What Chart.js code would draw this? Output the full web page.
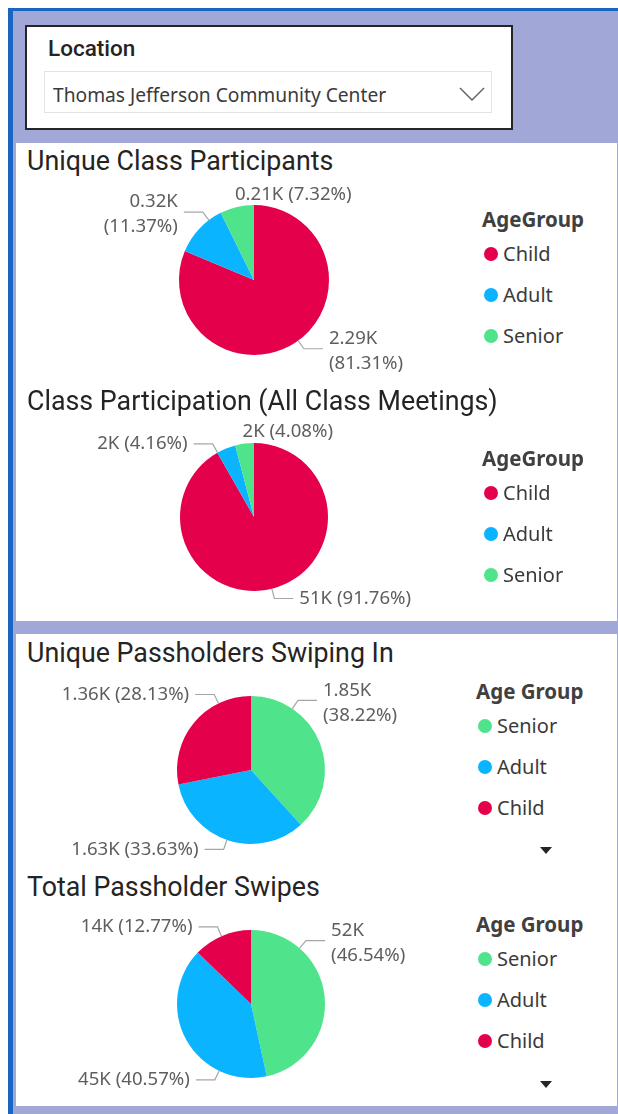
<!DOCTYPE html>
<html>
<head>
<meta charset="utf-8">
<script src="https://cdn.jsdelivr.net/npm/chart.js@4.4.0/dist/chart.umd.min.js"></script>
<style>
  html, body { margin: 0; padding: 0; background: #fff; }
  #page { position: relative; width: 618px; height: 1114px; overflow: hidden; background: #fff; }
  .abs { position: absolute; }
  #frame { left: 8px; top: 8px; right: 0; bottom: 0; background: #1766c2; }
  #backdrop { left: 13px; top: 11px; right: 0; bottom: 0; background: #a1a7d7; }
  .panel { left: 16px; right: 1px; background: #fff; }
  #slicer { left: 25px; top: 25px; width: 484px; height: 101px; background: #fff; border: 2px solid #252525; }
  #slicerTitle { left: 21px; top: 6px; font: 500 22.5px Roboto, sans-serif; color: #252423; line-height: 30px; }
  #dropdown { left: 17px; top: 44px; width: 448px; height: 42px; border: 1px solid #e4e4e4; box-sizing: border-box; }
  #dropText { left: 8px; top: 10px; font: 19.2px "Noto Sans", sans-serif; color: #3b3a39; line-height: 26px; white-space: nowrap; }
  #chev { left: 414px; top: 14px; }
  .title { left: 27px; font: 26.8px Roboto, sans-serif; color: #252423; line-height: 32px; white-space: nowrap; }
  canvas.pie { position: absolute; left: 16px; }
  .legend { position: absolute; font-family: "Noto Sans", sans-serif; color: #3b3a39; }
  .legend .lt { font-weight: 700; font-size: 20.5px; line-height: 28px; color: #404040; white-space: nowrap; }
  .legend .li { display: flex; align-items: center; height: 41px; font-size: 20px; white-space: nowrap; }
  .legend .dot { width: 14px; height: 14px; border-radius: 50%; margin: 0 5px 0 2px; }
  .arrow { position: absolute; width: 0; height: 0; border-left: 6px solid transparent; border-right: 6px solid transparent; border-top: 7px solid #252525; }
</style>
</head>
<body>
<div id="page">
  <div id="frame" class="abs"></div>
  <div id="backdrop" class="abs"></div>
  <div class="abs panel" style="top:143px;height:478px"></div>
  <div class="abs panel" style="top:634px;height:472px"></div>

  <div id="slicer" class="abs">
    <div id="slicerTitle" class="abs">Location</div>
    <div id="dropdown" class="abs">
      <div id="dropText" class="abs">Thomas Jefferson Community Center</div>
      <svg id="chev" class="abs" width="26" height="16"><polyline points="1,2 13,14 25,2" fill="none" stroke="#605e5c" stroke-width="1.4"/></svg>
    </div>
  </div>

  <div class="abs title" style="top:145px">Unique Class Participants</div>
  <canvas id="c1" class="pie" width="440" height="215" style="top:180px"></canvas>
  <div id="lg1" class="legend" style="left:482px;top:205px"></div>

  <div class="abs title" style="top:385px">Class Participation (All Class Meetings)</div>
  <canvas id="c2" class="pie" width="440" height="200" style="top:415px"></canvas>
  <div id="lg2" class="legend" style="left:482px;top:444px"></div>

  <div class="abs title" style="top:637px">Unique Passholders Swiping In</div>
  <canvas id="c3" class="pie" width="440" height="190" style="top:675px"></canvas>
  <div id="lg3" class="legend" style="left:476px;top:677px"></div>
  <div class="arrow" style="left:540px;top:847px"></div>

  <div class="abs title" style="top:871px">Total Passholder Swipes</div>
  <canvas id="c4" class="pie" width="440" height="195" style="top:905px"></canvas>
  <div id="lg4" class="legend" style="left:476px;top:910px"></div>
  <div class="arrow" style="left:540px;top:1081px"></div>
</div>

<script>
// ---- data ----
const groupColors = { Child: '#e5004b', Adult: '#0ab4ff', Senior: '#4fe48b' };

const classGroups = ['Child', 'Adult', 'Senior'];
const uniqueClassK = [2.29, 0.32, 0.21];
const uniqueClassPct = [81.31, 11.37, 7.32];

const participationK = [51, 2, 2];
const participationPct = [91.76, 4.16, 4.08];

const passGroups = ['Senior', 'Adult', 'Child'];
const uniquePassK = [1.85, 1.63, 1.36];
const uniquePassPct = [38.22, 33.63, 28.13];

const swipesK = [52, 45, 14];
const swipesPct = [46.54, 40.57, 12.77];

// ---- label plugin: outside labels with leader lines, like Power BI ----
const pieLabels = {
  id: 'pieLabels',
  afterDatasetsDraw(chart, args, opts) {
    const ctx = chart.ctx;
    const meta = chart.getDatasetMeta(0);
    ctx.save();
    ctx.font = opts.font;
    ctx.fillStyle = opts.color;
    ctx.strokeStyle = opts.lineColor;
    ctx.lineWidth = 1.2;
    ctx.textBaseline = 'middle';
    meta.data.forEach((arc, i) => {
      const p = arc.getProps(['x', 'y', 'startAngle', 'endAngle', 'outerRadius'], true);
      const spec = opts.specs[i] || {};
      const lines = opts.texts[i];
      let a = spec.angle == null ? (p.startAngle + p.endAngle) / 2 : spec.angle * Math.PI / 180 - Math.PI / 2;
      a = Math.min(Math.max(a, p.startAngle), p.endAngle);
      const ex = p.x + Math.cos(a) * p.outerRadius;
      const ey = p.y + Math.sin(a) * p.outerRadius;
      if (spec.above) {
        ctx.textAlign = 'left';
        ctx.fillText(lines.join(' '), ex - 2, ey - 12);
        return;
      }
      const bx = ex + Math.cos(a) * opts.elbow;
      const by = ey + Math.sin(a) * opts.elbow;
      const dir = Math.cos(a) >= 0 ? 1 : -1;
      const hx = bx + dir * opts.run;
      ctx.beginPath();
      ctx.moveTo(ex, ey);
      ctx.lineTo(bx, by);
      ctx.lineTo(hx, by);
      ctx.stroke();
      ctx.textAlign = dir > 0 ? 'left' : 'right';
      const tx = hx + dir * opts.gap;
      if (lines.length === 1) {
        ctx.fillText(lines[0], tx, by);
      } else {
        ctx.fillText(lines[0], tx, by - 10);
        ctx.fillText(lines[1], tx, by + 15);
      }
    });
    ctx.restore();
  }
};

function fmtK(v, d) { return v.toFixed(d) + 'K'; }

function makePie(id, groups, pct, valuesK, decimals, geo, specs) {
  const canvas = document.getElementById(id);
  const W = canvas.width, H = canvas.height;
  const texts = groups.map((g, i) => {
    const v = fmtK(valuesK[i], decimals);
    const p = '(' + pct[i].toFixed(2) + '%)';
    return specs[i].wrap ? [v, p] : [v + ' ' + p];
  });
  return new Chart(canvas.getContext('2d'), {
    type: 'pie',
    data: {
      labels: groups,
      datasets: [{
        data: pct,
        backgroundColor: groups.map(g => groupColors[g]),
        borderWidth: 0
      }]
    },
    options: {
      responsive: false,
      animation: false,
      layout: {
        padding: {
          left: geo.cx - geo.r,
          right: W - geo.cx - geo.r,
          top: geo.cy - geo.r,
          bottom: H - geo.cy - geo.r
        }
      },
      plugins: {
        legend: { display: false },
        tooltip: { enabled: false },
        pieLabels: {
          font: '18.6px "Noto Sans", sans-serif',
          color: '#605e5c',
          lineColor: '#a6a6a6',
          elbow: 10,
          run: 19,
          gap: 6,
          texts: texts,
          specs: specs
        }
      }
    },
    plugins: [pieLabels]
  });
}

function makeLegend(id, title, groups) {
  const el = document.getElementById(id);
  let html = '<div class="lt">' + title + '</div>';
  groups.forEach(g => {
    html += '<div class="li"><span class="dot" style="background:' + groupColors[g] + '"></span>' + g + '</div>';
  });
  el.innerHTML = html;
}

makePie('c1', classGroups, uniqueClassPct, uniqueClassK, 2,
  { cx: 238, cy: 100, r: 75 },
  [{ angle: 144, wrap: true }, { angle: 323, wrap: true }, { above: true }]);

makePie('c2', classGroups, participationPct, participationK, 0,
  { cx: 238, cy: 102, r: 74 },
  [{ angle: 166 }, { angle: 330.5 }, { above: true }]);

makePie('c3', passGroups, uniquePassPct, uniquePassK, 2,
  { cx: 235, cy: 95, r: 74 },
  [{ angle: 34, wrap: true }, { angle: 199 }, { angle: 334 }]);

makePie('c4', passGroups, swipesPct, swipesK, 0,
  { cx: 235, cy: 99, r: 74 },
  [{ angle: 41, wrap: true }, { angle: 205.5 }, { angle: 336.5 }]);

makeLegend('lg1', 'AgeGroup', classGroups);
makeLegend('lg2', 'AgeGroup', classGroups);
makeLegend('lg3', 'Age Group', passGroups);
makeLegend('lg4', 'Age Group', passGroups);
</script>
</body>
</html>
